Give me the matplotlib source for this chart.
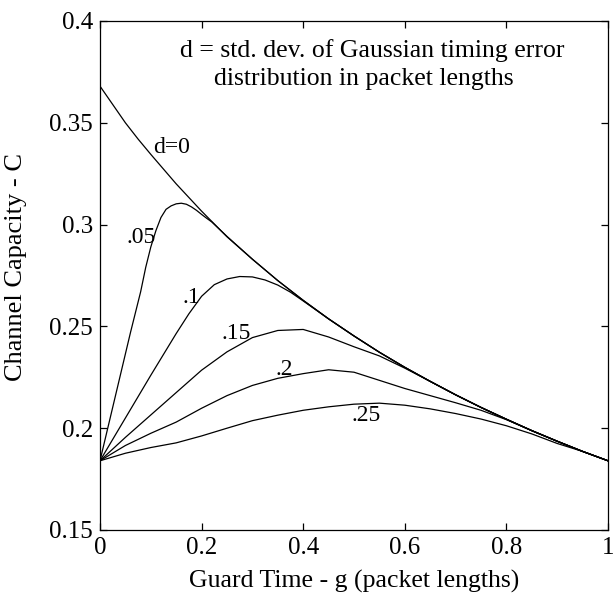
import matplotlib
matplotlib.use("Agg")
import matplotlib.pyplot as plt

plt.rcParams['font.family'] = ['Liberation Serif', 'DejaVu Serif']

# ---- data ----
g_d0 = [0, .025, .05, .075, .1, .15, .2, .25, .3, .35, .4, .45, .5, .55, .6, .65, .7, .75, .8, .85, .9, .95, 1.0]
c_d0 = [0.368, 0.359, 0.350, 0.342, 0.3345, 0.320, 0.3066, 0.294, 0.283, 0.2725, 0.2628, 0.2537, 0.2453, 0.2373, 0.2299, 0.2230, 0.2164, 0.2102, 0.2044, 0.1988, 0.1936, 0.1886, 0.184]

g_d05 = [0, .02, .04, .06, .08, .09, .10, .11, .12, .13, .14, .15, .16, .17, .18, .19, .20, .21, .22, .25, .3, .35, .4, .45, .5, .55, .6, .65, .7, .75, .8, .85, .9, .95, 1.0]
c_d05 = [0.184, 0.205, 0.226, 0.247, 0.267, 0.279, 0.289, 0.297, 0.3035, 0.3075, 0.3092, 0.3102, 0.3105, 0.3100, 0.3087, 0.3070, 0.3050, 0.3031, 0.3013, 0.2942, 0.283, 0.2725, 0.2628, 0.2537, 0.2453, 0.2373, 0.2299, 0.2230, 0.2164, 0.2102, 0.2044, 0.1988, 0.1936, 0.1886, 0.184]

g_d10 = [0, .05, .1, .15, .175, .2, .225, .25, .275, .3, .325, .35, .375, .4, .45, .5, .55, .6, .65, .7, .75, .8, .85, .9, .95, 1.0]
c_d10 = [0.184, 0.205, 0.226, 0.2465, 0.2562, 0.2648, 0.2705, 0.2733, 0.2745, 0.2743, 0.2728, 0.2703, 0.2668, 0.2625, 0.2537, 0.2453, 0.2373, 0.2299, 0.2230, 0.2164, 0.2102, 0.2044, 0.1988, 0.1936, 0.1886, 0.184]

g_d15 = [0, .05, .1, .15, .2, .25, .3, .35, .4, .45, .5, .55, .6, .65, .7, .75, .8, .85, .9, .95, 1.0]
c_d15 = [0.184, 0.1955, 0.2065, 0.2175, 0.2285, 0.2375, 0.2445, 0.2480, 0.2485, 0.2448, 0.2400, 0.2355, 0.2295, 0.2230, 0.2164, 0.2102, 0.2044, 0.1988, 0.1936, 0.1886, 0.184]

g_d20 = [0, .05, .1, .15, .2, .25, .3, .35, .4, .45, .5, .55, .6, .65, .7, .75, .8, .85, .9, .95, 1.0]
c_d20 = [0.184, 0.1915, 0.1975, 0.203, 0.2098, 0.216, 0.221, 0.2245, 0.2268, 0.2287, 0.2275, 0.2235, 0.2195, 0.2160, 0.2125, 0.2088, 0.2042, 0.1988, 0.1936, 0.1886, 0.184]

g_d25 = [0, .05, .1, .15, .2, .25, .3, .35, .4, .45, .5, .55, .6, .65, .7, .75, .8, .85, .9, .95, 1.0]
c_d25 = [0.184, 0.1877, 0.1905, 0.1928, 0.1962, 0.2000, 0.2037, 0.2064, 0.2088, 0.2105, 0.2118, 0.2123, 0.2113, 0.2095, 0.2072, 0.2045, 0.2012, 0.1972, 0.1925, 0.1886, 0.184]

curve_labels = ['d=0', '.05', '.1', '.15', '.2', '.25']
label_g = [0.104, 0.053, 0.162, 0.240, 0.345, 0.495]
label_c = [0.338, 0.2936, 0.264, 0.2466, 0.229, 0.206]

x_ticks = [0, 0.2, 0.4, 0.6, 0.8, 1]
x_ticklabels = ['0', '0.2', '0.4', '0.6', '0.8', '1']
y_ticks = [0.15, 0.2, 0.25, 0.3, 0.35, 0.4]
y_ticklabels = ['0.15', '0.2', '0.25', '0.3', '0.35', '0.4']

fig = plt.figure(figsize=(6.13, 6.08), dpi=100)
ax = fig.add_axes([100/613, 1-530/608, 508/613, 509/608])

for g, c in [(g_d0, c_d0), (g_d05, c_d05), (g_d10, c_d10), (g_d15, c_d15), (g_d20, c_d20), (g_d25, c_d25)]:
    ax.plot(g, c, color='black', lw=0.9)

for t, gx, cy in zip(curve_labels, label_g, label_c):
    ax.text(gx, cy, t, fontsize=17, ha='left', va='center')

ax.text(0.536, 0.3853, 'd = std. dev. of Gaussian timing error', fontsize=18.5, ha='center', va='center')
ax.text(0.520, 0.3716, 'distribution in packet lengths', fontsize=18.5, ha='center', va='center')

ax.set_xlim(0, 1)
ax.set_ylim(0.15, 0.4)
ax.set_xticks(x_ticks)
ax.set_xticklabels(x_ticklabels)
ax.set_yticks(y_ticks)
ax.set_yticklabels(y_ticklabels)
ax.tick_params(direction='in', top=True, right=True, length=5, width=0.9, labelsize=18, pad=5)
for s in ax.spines.values():
    s.set_linewidth(0.9)

ax.set_xlabel('Guard Time - g (packet lengths)', fontsize=18.5, labelpad=8)
ax.set_ylabel('Channel Capacity - C', fontsize=19, labelpad=16)
ax.yaxis.label.set_y(0.517)

fig.savefig('out.png', dpi=100)
